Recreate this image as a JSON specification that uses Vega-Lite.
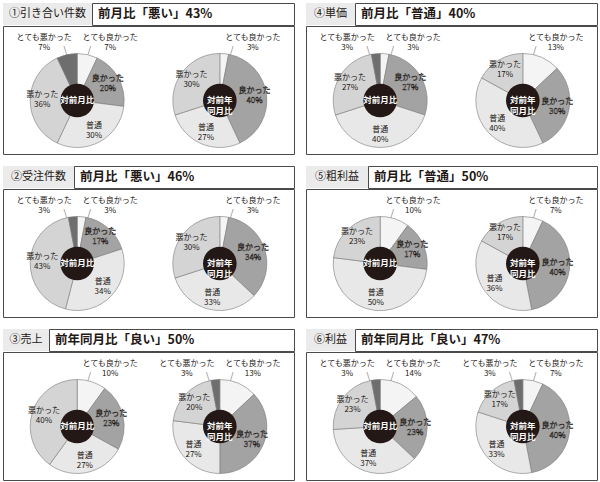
{
  "$schema": "https://vega.github.io/schema/vega-lite/v6.json",
  "padding": {"left": 2, "top": 2, "right": 3, "bottom": 3},
  "background": "white",
  "config": {
    "font": "Noto Sans CJK JP",
    "view": {"stroke": "#4a4a4a", "strokeWidth": 1},
    "text": {"font": "Noto Sans CJK JP", "color": "#231815", "baseline": "middle"},
    "arc": {"outerRadius": 47, "stroke": "#7a7a7a", "strokeWidth": 0.6},
    "point": {"shape": "circle", "filled": true, "size": 1130, "color": "#231815", "opacity": 1}
  },
  "datasets": {
    "d": [
      {"p": 1, "c": "対前月比", "cat": "とても良かった", "k": 1, "v": 0.07},
      {"p": 1, "c": "対前月比", "cat": "良かった", "k": 2, "v": 0.20},
      {"p": 1, "c": "対前月比", "cat": "普通", "k": 3, "v": 0.30},
      {"p": 1, "c": "対前月比", "cat": "悪かった", "k": 4, "v": 0.36},
      {"p": 1, "c": "対前月比", "cat": "とても悪かった", "k": 5, "v": 0.07},
      {"p": 1, "c": "対前年同月比", "cat": "とても良かった", "k": 1, "v": 0.03},
      {"p": 1, "c": "対前年同月比", "cat": "良かった", "k": 2, "v": 0.40},
      {"p": 1, "c": "対前年同月比", "cat": "普通", "k": 3, "v": 0.27},
      {"p": 1, "c": "対前年同月比", "cat": "悪かった", "k": 4, "v": 0.30},

      {"p": 2, "c": "対前月比", "cat": "とても良かった", "k": 1, "v": 0.03},
      {"p": 2, "c": "対前月比", "cat": "良かった", "k": 2, "v": 0.17},
      {"p": 2, "c": "対前月比", "cat": "普通", "k": 3, "v": 0.34},
      {"p": 2, "c": "対前月比", "cat": "悪かった", "k": 4, "v": 0.43},
      {"p": 2, "c": "対前月比", "cat": "とても悪かった", "k": 5, "v": 0.03},
      {"p": 2, "c": "対前年同月比", "cat": "とても良かった", "k": 1, "v": 0.03},
      {"p": 2, "c": "対前年同月比", "cat": "良かった", "k": 2, "v": 0.34},
      {"p": 2, "c": "対前年同月比", "cat": "普通", "k": 3, "v": 0.33},
      {"p": 2, "c": "対前年同月比", "cat": "悪かった", "k": 4, "v": 0.30},

      {"p": 3, "c": "対前月比", "cat": "とても良かった", "k": 1, "v": 0.10},
      {"p": 3, "c": "対前月比", "cat": "良かった", "k": 2, "v": 0.23},
      {"p": 3, "c": "対前月比", "cat": "普通", "k": 3, "v": 0.27},
      {"p": 3, "c": "対前月比", "cat": "悪かった", "k": 4, "v": 0.40},
      {"p": 3, "c": "対前年同月比", "cat": "とても良かった", "k": 1, "v": 0.13},
      {"p": 3, "c": "対前年同月比", "cat": "良かった", "k": 2, "v": 0.37},
      {"p": 3, "c": "対前年同月比", "cat": "普通", "k": 3, "v": 0.27},
      {"p": 3, "c": "対前年同月比", "cat": "悪かった", "k": 4, "v": 0.20},
      {"p": 3, "c": "対前年同月比", "cat": "とても悪かった", "k": 5, "v": 0.03},

      {"p": 4, "c": "対前月比", "cat": "とても良かった", "k": 1, "v": 0.03},
      {"p": 4, "c": "対前月比", "cat": "良かった", "k": 2, "v": 0.27},
      {"p": 4, "c": "対前月比", "cat": "普通", "k": 3, "v": 0.40},
      {"p": 4, "c": "対前月比", "cat": "悪かった", "k": 4, "v": 0.27},
      {"p": 4, "c": "対前月比", "cat": "とても悪かった", "k": 5, "v": 0.03},
      {"p": 4, "c": "対前年同月比", "cat": "とても良かった", "k": 1, "v": 0.13},
      {"p": 4, "c": "対前年同月比", "cat": "良かった", "k": 2, "v": 0.30},
      {"p": 4, "c": "対前年同月比", "cat": "普通", "k": 3, "v": 0.40},
      {"p": 4, "c": "対前年同月比", "cat": "悪かった", "k": 4, "v": 0.17},

      {"p": 5, "c": "対前月比", "cat": "とても良かった", "k": 1, "v": 0.10},
      {"p": 5, "c": "対前月比", "cat": "良かった", "k": 2, "v": 0.17},
      {"p": 5, "c": "対前月比", "cat": "普通", "k": 3, "v": 0.50},
      {"p": 5, "c": "対前月比", "cat": "悪かった", "k": 4, "v": 0.23},
      {"p": 5, "c": "対前年同月比", "cat": "とても良かった", "k": 1, "v": 0.07},
      {"p": 5, "c": "対前年同月比", "cat": "良かった", "k": 2, "v": 0.40},
      {"p": 5, "c": "対前年同月比", "cat": "普通", "k": 3, "v": 0.36},
      {"p": 5, "c": "対前年同月比", "cat": "悪かった", "k": 4, "v": 0.17},

      {"p": 6, "c": "対前月比", "cat": "とても良かった", "k": 1, "v": 0.14},
      {"p": 6, "c": "対前月比", "cat": "良かった", "k": 2, "v": 0.23},
      {"p": 6, "c": "対前月比", "cat": "普通", "k": 3, "v": 0.37},
      {"p": 6, "c": "対前月比", "cat": "悪かった", "k": 4, "v": 0.23},
      {"p": 6, "c": "対前月比", "cat": "とても悪かった", "k": 5, "v": 0.03},
      {"p": 6, "c": "対前年同月比", "cat": "とても良かった", "k": 1, "v": 0.07},
      {"p": 6, "c": "対前年同月比", "cat": "良かった", "k": 2, "v": 0.40},
      {"p": 6, "c": "対前年同月比", "cat": "普通", "k": 3, "v": 0.33},
      {"p": 6, "c": "対前年同月比", "cat": "悪かった", "k": 4, "v": 0.17},
      {"p": 6, "c": "対前年同月比", "cat": "とても悪かった", "k": 5, "v": 0.03}
    ],
    "ctr": [
      {"c": "対前月比", "t": "対前月比"},
      {"c": "対前年同月比", "t": "対前年\n同月比"}
    ]
  },
  "spacing": 10,
  "vconcat": [
    {"spacing": 10, "hconcat": [
      {"spacing": -2, "vconcat": [
        {"spacing": -2, "hconcat": [
          {"width": 89, "height": 22, "view": {"fill": "#ebebeb"}, "data": {"values": [{"t": "①引き合い件数"}]},
           "mark": {"type": "text", "fontSize": 11}, "encoding": {"text": {"field": "t", "type": "nominal"}}},
          {"width": 202, "height": 22, "data": {"values": [{"t": "前月比「悪い」43%"}]},
           "mark": {"type": "text", "fontSize": 12.5, "fontWeight": "bold", "align": "left", "dx": 6},
           "encoding": {"x": {"datum": "h", "type": "nominal", "scale": {"type": "point", "align": 0}, "axis": null}, "text": {"field": "t", "type": "nominal"}}}
        ]},
        {"width": 291, "height": 128, "data": {"name": "d"},
         "encoding": {
           "x": {"field": "c", "type": "nominal", "scale": {"type": "point", "domain": ["対前月比", "対前年同月比"], "padding": 0.52}, "axis": null},
           "y": {"datum": "o", "type": "nominal", "scale": {"type": "point", "align": 0.582}, "axis": null}
         },
         "layer": [
           {"transform": [{"filter": "datum.p == 1 && datum.c == '対前月比'"}], "mark": "arc",
            "encoding": {"theta": {"field": "v", "type": "quantitative", "stack": true, "scale": {"domain": [0, 1]}},
              "color": {"field": "cat", "type": "nominal", "scale": {"domain": ["とても良かった", "良かった", "普通", "悪かった", "とても悪かった"], "range": ["#f4f4f4", "#a3a3a3", "#e8e8e8", "#d4d4d4", "#6e6e6e"]}, "legend": null},
              "order": {"field": "k", "type": "quantitative"}}},
           {"transform": [{"filter": "datum.p == 1 && datum.c == '対前年同月比'"}], "mark": "arc",
            "encoding": {"theta": {"field": "v", "type": "quantitative", "stack": true, "scale": {"domain": [0, 1]}},
              "color": {"field": "cat", "type": "nominal", "scale": {"domain": ["とても良かった", "良かった", "普通", "悪かった", "とても悪かった"], "range": ["#f4f4f4", "#a3a3a3", "#e8e8e8", "#d4d4d4", "#6e6e6e"]}, "legend": null},
              "order": {"field": "k", "type": "quantitative"}}},
           {"transform": [{"filter": "datum.p == 1 && datum.c == '対前月比'"}],
            "mark": {"type": "text", "radius": 35, "fontSize": 8, "dy": -5, "stroke": "#231815"},
            "encoding": {"theta": {"field": "v", "type": "quantitative", "stack": true, "scale": {"domain": [0, 1]}},
              "detail": {"field": "cat", "type": "nominal"}, "order": {"field": "k", "type": "quantitative"},
              "fill": {"condition": {"test": "datum.k == 2", "value": "#ffffff"}, "value": "#231815"},
              "strokeWidth": {"condition": {"test": "datum.k == 2", "value": 0.5}, "value": 0},
              "text": {"field": "cat", "type": "nominal", "condition": {"test": "datum.k == 1 || datum.k == 5", "value": ""}}}},
           {"transform": [{"filter": "datum.p == 1 && datum.c == '対前月比'"}],
            "mark": {"type": "text", "radius": 35, "fontSize": 8, "dy": 5, "stroke": "#231815"},
            "encoding": {"theta": {"field": "v", "type": "quantitative", "stack": true, "scale": {"domain": [0, 1]}},
              "detail": {"field": "cat", "type": "nominal"}, "order": {"field": "k", "type": "quantitative"},
              "fill": {"condition": {"test": "datum.k == 2", "value": "#ffffff"}, "value": "#231815"},
              "strokeWidth": {"condition": {"test": "datum.k == 2", "value": 0.5}, "value": 0},
              "text": {"field": "v", "type": "quantitative", "format": ".0%", "condition": {"test": "datum.k == 1 || datum.k == 5", "value": ""}}}},
           {"transform": [{"filter": "datum.p == 1 && datum.c == '対前年同月比'"}],
            "mark": {"type": "text", "radius": 35, "fontSize": 8, "dy": -5, "stroke": "#231815"},
            "encoding": {"theta": {"field": "v", "type": "quantitative", "stack": true, "scale": {"domain": [0, 1]}},
              "detail": {"field": "cat", "type": "nominal"}, "order": {"field": "k", "type": "quantitative"},
              "fill": {"condition": {"test": "datum.k == 2", "value": "#ffffff"}, "value": "#231815"},
              "strokeWidth": {"condition": {"test": "datum.k == 2", "value": 0.5}, "value": 0},
              "text": {"field": "cat", "type": "nominal", "condition": {"test": "datum.k == 1 || datum.k == 5", "value": ""}}}},
           {"transform": [{"filter": "datum.p == 1 && datum.c == '対前年同月比'"}],
            "mark": {"type": "text", "radius": 35, "fontSize": 8, "dy": 5, "stroke": "#231815"},
            "encoding": {"theta": {"field": "v", "type": "quantitative", "stack": true, "scale": {"domain": [0, 1]}},
              "detail": {"field": "cat", "type": "nominal"}, "order": {"field": "k", "type": "quantitative"},
              "fill": {"condition": {"test": "datum.k == 2", "value": "#ffffff"}, "value": "#231815"},
              "strokeWidth": {"condition": {"test": "datum.k == 2", "value": 0.5}, "value": 0},
              "text": {"field": "v", "type": "quantitative", "format": ".0%", "condition": {"test": "datum.k == 1 || datum.k == 5", "value": ""}}}},
           {"transform": [{"filter": "datum.p == 1 && datum.k == 1"}],
            "mark": {"type": "text", "fontSize": 8, "dx": 33, "dy": -62}, "encoding": {"text": {"field": "cat", "type": "nominal"}}},
           {"transform": [{"filter": "datum.p == 1 && datum.k == 1"}],
            "mark": {"type": "text", "fontSize": 8, "dx": 33, "dy": -52}, "encoding": {"text": {"field": "v", "type": "quantitative", "format": ".0%"}}},
           {"transform": [{"filter": "datum.p == 1 && datum.k == 5"}],
            "mark": {"type": "text", "fontSize": 8, "dx": -33, "dy": -62}, "encoding": {"text": {"field": "cat", "type": "nominal"}}},
           {"transform": [{"filter": "datum.p == 1 && datum.k == 5"}],
            "mark": {"type": "text", "fontSize": 8, "dx": -33, "dy": -52}, "encoding": {"text": {"field": "v", "type": "quantitative", "format": ".0%"}}},
           {"transform": [{"filter": "datum.p == 1 && datum.k == 1"}],
            "mark": {"type": "text", "fontSize": 9, "color": "#777777", "dx": 12, "dy": -50}, "encoding": {"text": {"value": "/"}}},
           {"transform": [{"filter": "datum.p == 1 && datum.k == 5"}],
            "mark": {"type": "text", "fontSize": 9, "color": "#777777", "dx": -12, "dy": -50}, "encoding": {"text": {"value": "\\"}}},
           {"data": {"name": "ctr"}, "mark": "point"},
           {"data": {"name": "ctr"}, "mark": {"type": "text", "color": "#ffffff", "fontSize": 8.5, "fontWeight": "bold", "lineBreak": "\n", "lineHeight": 10.5},
            "encoding": {"text": {"field": "t", "type": "nominal"}}}
         ]}
      ]},
      {"spacing": -2, "vconcat": [
        {"spacing": -2, "hconcat": [
          {"width": 49, "height": 22, "view": {"fill": "#ebebeb"}, "data": {"values": [{"t": "④単価"}]},
           "mark": {"type": "text", "fontSize": 11}, "encoding": {"text": {"field": "t", "type": "nominal"}}},
          {"width": 242, "height": 22, "data": {"values": [{"t": "前月比「普通」40%"}]},
           "mark": {"type": "text", "fontSize": 12.5, "fontWeight": "bold", "align": "left", "dx": 6},
           "encoding": {"x": {"datum": "h", "type": "nominal", "scale": {"type": "point", "align": 0}, "axis": null}, "text": {"field": "t", "type": "nominal"}}}
        ]},
        {"width": 291, "height": 128, "data": {"name": "d"},
         "encoding": {
           "x": {"field": "c", "type": "nominal", "scale": {"type": "point", "domain": ["対前月比", "対前年同月比"], "padding": 0.52}, "axis": null},
           "y": {"datum": "o", "type": "nominal", "scale": {"type": "point", "align": 0.582}, "axis": null}
         },
         "layer": [
           {"transform": [{"filter": "datum.p == 4 && datum.c == '対前月比'"}], "mark": "arc",
            "encoding": {"theta": {"field": "v", "type": "quantitative", "stack": true, "scale": {"domain": [0, 1]}},
              "color": {"field": "cat", "type": "nominal", "scale": {"domain": ["とても良かった", "良かった", "普通", "悪かった", "とても悪かった"], "range": ["#f4f4f4", "#a3a3a3", "#e8e8e8", "#d4d4d4", "#6e6e6e"]}, "legend": null},
              "order": {"field": "k", "type": "quantitative"}}},
           {"transform": [{"filter": "datum.p == 4 && datum.c == '対前年同月比'"}], "mark": "arc",
            "encoding": {"theta": {"field": "v", "type": "quantitative", "stack": true, "scale": {"domain": [0, 1]}},
              "color": {"field": "cat", "type": "nominal", "scale": {"domain": ["とても良かった", "良かった", "普通", "悪かった", "とても悪かった"], "range": ["#f4f4f4", "#a3a3a3", "#e8e8e8", "#d4d4d4", "#6e6e6e"]}, "legend": null},
              "order": {"field": "k", "type": "quantitative"}}},
           {"transform": [{"filter": "datum.p == 4 && datum.c == '対前月比'"}],
            "mark": {"type": "text", "radius": 35, "fontSize": 8, "dy": -5, "stroke": "#231815"},
            "encoding": {"theta": {"field": "v", "type": "quantitative", "stack": true, "scale": {"domain": [0, 1]}},
              "detail": {"field": "cat", "type": "nominal"}, "order": {"field": "k", "type": "quantitative"},
              "fill": {"condition": {"test": "datum.k == 2", "value": "#ffffff"}, "value": "#231815"},
              "strokeWidth": {"condition": {"test": "datum.k == 2", "value": 0.5}, "value": 0},
              "text": {"field": "cat", "type": "nominal", "condition": {"test": "datum.k == 1 || datum.k == 5", "value": ""}}}},
           {"transform": [{"filter": "datum.p == 4 && datum.c == '対前月比'"}],
            "mark": {"type": "text", "radius": 35, "fontSize": 8, "dy": 5, "stroke": "#231815"},
            "encoding": {"theta": {"field": "v", "type": "quantitative", "stack": true, "scale": {"domain": [0, 1]}},
              "detail": {"field": "cat", "type": "nominal"}, "order": {"field": "k", "type": "quantitative"},
              "fill": {"condition": {"test": "datum.k == 2", "value": "#ffffff"}, "value": "#231815"},
              "strokeWidth": {"condition": {"test": "datum.k == 2", "value": 0.5}, "value": 0},
              "text": {"field": "v", "type": "quantitative", "format": ".0%", "condition": {"test": "datum.k == 1 || datum.k == 5", "value": ""}}}},
           {"transform": [{"filter": "datum.p == 4 && datum.c == '対前年同月比'"}],
            "mark": {"type": "text", "radius": 35, "fontSize": 8, "dy": -5, "stroke": "#231815"},
            "encoding": {"theta": {"field": "v", "type": "quantitative", "stack": true, "scale": {"domain": [0, 1]}},
              "detail": {"field": "cat", "type": "nominal"}, "order": {"field": "k", "type": "quantitative"},
              "fill": {"condition": {"test": "datum.k == 2", "value": "#ffffff"}, "value": "#231815"},
              "strokeWidth": {"condition": {"test": "datum.k == 2", "value": 0.5}, "value": 0},
              "text": {"field": "cat", "type": "nominal", "condition": {"test": "datum.k == 1 || datum.k == 5", "value": ""}}}},
           {"transform": [{"filter": "datum.p == 4 && datum.c == '対前年同月比'"}],
            "mark": {"type": "text", "radius": 35, "fontSize": 8, "dy": 5, "stroke": "#231815"},
            "encoding": {"theta": {"field": "v", "type": "quantitative", "stack": true, "scale": {"domain": [0, 1]}},
              "detail": {"field": "cat", "type": "nominal"}, "order": {"field": "k", "type": "quantitative"},
              "fill": {"condition": {"test": "datum.k == 2", "value": "#ffffff"}, "value": "#231815"},
              "strokeWidth": {"condition": {"test": "datum.k == 2", "value": 0.5}, "value": 0},
              "text": {"field": "v", "type": "quantitative", "format": ".0%", "condition": {"test": "datum.k == 1 || datum.k == 5", "value": ""}}}},
           {"transform": [{"filter": "datum.p == 4 && datum.k == 1"}],
            "mark": {"type": "text", "fontSize": 8, "dx": 33, "dy": -62}, "encoding": {"text": {"field": "cat", "type": "nominal"}}},
           {"transform": [{"filter": "datum.p == 4 && datum.k == 1"}],
            "mark": {"type": "text", "fontSize": 8, "dx": 33, "dy": -52}, "encoding": {"text": {"field": "v", "type": "quantitative", "format": ".0%"}}},
           {"transform": [{"filter": "datum.p == 4 && datum.k == 5"}],
            "mark": {"type": "text", "fontSize": 8, "dx": -33, "dy": -62}, "encoding": {"text": {"field": "cat", "type": "nominal"}}},
           {"transform": [{"filter": "datum.p == 4 && datum.k == 5"}],
            "mark": {"type": "text", "fontSize": 8, "dx": -33, "dy": -52}, "encoding": {"text": {"field": "v", "type": "quantitative", "format": ".0%"}}},
           {"transform": [{"filter": "datum.p == 4 && datum.k == 1"}],
            "mark": {"type": "text", "fontSize": 9, "color": "#777777", "dx": 12, "dy": -50}, "encoding": {"text": {"value": "/"}}},
           {"transform": [{"filter": "datum.p == 4 && datum.k == 5"}],
            "mark": {"type": "text", "fontSize": 9, "color": "#777777", "dx": -12, "dy": -50}, "encoding": {"text": {"value": "\\"}}},
           {"data": {"name": "ctr"}, "mark": "point"},
           {"data": {"name": "ctr"}, "mark": {"type": "text", "color": "#ffffff", "fontSize": 8.5, "fontWeight": "bold", "lineBreak": "\n", "lineHeight": 10.5},
            "encoding": {"text": {"field": "t", "type": "nominal"}}}
         ]}
      ]}
    ]},
    {"spacing": 10, "hconcat": [
      {"spacing": -2, "vconcat": [
        {"spacing": -2, "hconcat": [
          {"width": 71, "height": 22, "view": {"fill": "#ebebeb"}, "data": {"values": [{"t": "②受注件数"}]},
           "mark": {"type": "text", "fontSize": 11}, "encoding": {"text": {"field": "t", "type": "nominal"}}},
          {"width": 220, "height": 22, "data": {"values": [{"t": "前月比「悪い」46%"}]},
           "mark": {"type": "text", "fontSize": 12.5, "fontWeight": "bold", "align": "left", "dx": 6},
           "encoding": {"x": {"datum": "h", "type": "nominal", "scale": {"type": "point", "align": 0}, "axis": null}, "text": {"field": "t", "type": "nominal"}}}
        ]},
        {"width": 291, "height": 128, "data": {"name": "d"},
         "encoding": {
           "x": {"field": "c", "type": "nominal", "scale": {"type": "point", "domain": ["対前月比", "対前年同月比"], "padding": 0.52}, "axis": null},
           "y": {"datum": "o", "type": "nominal", "scale": {"type": "point", "align": 0.582}, "axis": null}
         },
         "layer": [
           {"transform": [{"filter": "datum.p == 2 && datum.c == '対前月比'"}], "mark": "arc",
            "encoding": {"theta": {"field": "v", "type": "quantitative", "stack": true, "scale": {"domain": [0, 1]}},
              "color": {"field": "cat", "type": "nominal", "scale": {"domain": ["とても良かった", "良かった", "普通", "悪かった", "とても悪かった"], "range": ["#f4f4f4", "#a3a3a3", "#e8e8e8", "#d4d4d4", "#6e6e6e"]}, "legend": null},
              "order": {"field": "k", "type": "quantitative"}}},
           {"transform": [{"filter": "datum.p == 2 && datum.c == '対前年同月比'"}], "mark": "arc",
            "encoding": {"theta": {"field": "v", "type": "quantitative", "stack": true, "scale": {"domain": [0, 1]}},
              "color": {"field": "cat", "type": "nominal", "scale": {"domain": ["とても良かった", "良かった", "普通", "悪かった", "とても悪かった"], "range": ["#f4f4f4", "#a3a3a3", "#e8e8e8", "#d4d4d4", "#6e6e6e"]}, "legend": null},
              "order": {"field": "k", "type": "quantitative"}}},
           {"transform": [{"filter": "datum.p == 2 && datum.c == '対前月比'"}],
            "mark": {"type": "text", "radius": 35, "fontSize": 8, "dy": -5, "stroke": "#231815"},
            "encoding": {"theta": {"field": "v", "type": "quantitative", "stack": true, "scale": {"domain": [0, 1]}},
              "detail": {"field": "cat", "type": "nominal"}, "order": {"field": "k", "type": "quantitative"},
              "fill": {"condition": {"test": "datum.k == 2", "value": "#ffffff"}, "value": "#231815"},
              "strokeWidth": {"condition": {"test": "datum.k == 2", "value": 0.5}, "value": 0},
              "text": {"field": "cat", "type": "nominal", "condition": {"test": "datum.k == 1 || datum.k == 5", "value": ""}}}},
           {"transform": [{"filter": "datum.p == 2 && datum.c == '対前月比'"}],
            "mark": {"type": "text", "radius": 35, "fontSize": 8, "dy": 5, "stroke": "#231815"},
            "encoding": {"theta": {"field": "v", "type": "quantitative", "stack": true, "scale": {"domain": [0, 1]}},
              "detail": {"field": "cat", "type": "nominal"}, "order": {"field": "k", "type": "quantitative"},
              "fill": {"condition": {"test": "datum.k == 2", "value": "#ffffff"}, "value": "#231815"},
              "strokeWidth": {"condition": {"test": "datum.k == 2", "value": 0.5}, "value": 0},
              "text": {"field": "v", "type": "quantitative", "format": ".0%", "condition": {"test": "datum.k == 1 || datum.k == 5", "value": ""}}}},
           {"transform": [{"filter": "datum.p == 2 && datum.c == '対前年同月比'"}],
            "mark": {"type": "text", "radius": 35, "fontSize": 8, "dy": -5, "stroke": "#231815"},
            "encoding": {"theta": {"field": "v", "type": "quantitative", "stack": true, "scale": {"domain": [0, 1]}},
              "detail": {"field": "cat", "type": "nominal"}, "order": {"field": "k", "type": "quantitative"},
              "fill": {"condition": {"test": "datum.k == 2", "value": "#ffffff"}, "value": "#231815"},
              "strokeWidth": {"condition": {"test": "datum.k == 2", "value": 0.5}, "value": 0},
              "text": {"field": "cat", "type": "nominal", "condition": {"test": "datum.k == 1 || datum.k == 5", "value": ""}}}},
           {"transform": [{"filter": "datum.p == 2 && datum.c == '対前年同月比'"}],
            "mark": {"type": "text", "radius": 35, "fontSize": 8, "dy": 5, "stroke": "#231815"},
            "encoding": {"theta": {"field": "v", "type": "quantitative", "stack": true, "scale": {"domain": [0, 1]}},
              "detail": {"field": "cat", "type": "nominal"}, "order": {"field": "k", "type": "quantitative"},
              "fill": {"condition": {"test": "datum.k == 2", "value": "#ffffff"}, "value": "#231815"},
              "strokeWidth": {"condition": {"test": "datum.k == 2", "value": 0.5}, "value": 0},
              "text": {"field": "v", "type": "quantitative", "format": ".0%", "condition": {"test": "datum.k == 1 || datum.k == 5", "value": ""}}}},
           {"transform": [{"filter": "datum.p == 2 && datum.k == 1"}],
            "mark": {"type": "text", "fontSize": 8, "dx": 33, "dy": -62}, "encoding": {"text": {"field": "cat", "type": "nominal"}}},
           {"transform": [{"filter": "datum.p == 2 && datum.k == 1"}],
            "mark": {"type": "text", "fontSize": 8, "dx": 33, "dy": -52}, "encoding": {"text": {"field": "v", "type": "quantitative", "format": ".0%"}}},
           {"transform": [{"filter": "datum.p == 2 && datum.k == 5"}],
            "mark": {"type": "text", "fontSize": 8, "dx": -33, "dy": -62}, "encoding": {"text": {"field": "cat", "type": "nominal"}}},
           {"transform": [{"filter": "datum.p == 2 && datum.k == 5"}],
            "mark": {"type": "text", "fontSize": 8, "dx": -33, "dy": -52}, "encoding": {"text": {"field": "v", "type": "quantitative", "format": ".0%"}}},
           {"transform": [{"filter": "datum.p == 2 && datum.k == 1"}],
            "mark": {"type": "text", "fontSize": 9, "color": "#777777", "dx": 12, "dy": -50}, "encoding": {"text": {"value": "/"}}},
           {"transform": [{"filter": "datum.p == 2 && datum.k == 5"}],
            "mark": {"type": "text", "fontSize": 9, "color": "#777777", "dx": -12, "dy": -50}, "encoding": {"text": {"value": "\\"}}},
           {"data": {"name": "ctr"}, "mark": "point"},
           {"data": {"name": "ctr"}, "mark": {"type": "text", "color": "#ffffff", "fontSize": 8.5, "fontWeight": "bold", "lineBreak": "\n", "lineHeight": 10.5},
            "encoding": {"text": {"field": "t", "type": "nominal"}}}
         ]}
      ]},
      {"spacing": -2, "vconcat": [
        {"spacing": -2, "hconcat": [
          {"width": 62, "height": 22, "view": {"fill": "#ebebeb"}, "data": {"values": [{"t": "⑤粗利益"}]},
           "mark": {"type": "text", "fontSize": 11}, "encoding": {"text": {"field": "t", "type": "nominal"}}},
          {"width": 229, "height": 22, "data": {"values": [{"t": "前月比「普通」50%"}]},
           "mark": {"type": "text", "fontSize": 12.5, "fontWeight": "bold", "align": "left", "dx": 6},
           "encoding": {"x": {"datum": "h", "type": "nominal", "scale": {"type": "point", "align": 0}, "axis": null}, "text": {"field": "t", "type": "nominal"}}}
        ]},
        {"width": 291, "height": 128, "data": {"name": "d"},
         "encoding": {
           "x": {"field": "c", "type": "nominal", "scale": {"type": "point", "domain": ["対前月比", "対前年同月比"], "padding": 0.52}, "axis": null},
           "y": {"datum": "o", "type": "nominal", "scale": {"type": "point", "align": 0.582}, "axis": null}
         },
         "layer": [
           {"transform": [{"filter": "datum.p == 5 && datum.c == '対前月比'"}], "mark": "arc",
            "encoding": {"theta": {"field": "v", "type": "quantitative", "stack": true, "scale": {"domain": [0, 1]}},
              "color": {"field": "cat", "type": "nominal", "scale": {"domain": ["とても良かった", "良かった", "普通", "悪かった", "とても悪かった"], "range": ["#f4f4f4", "#a3a3a3", "#e8e8e8", "#d4d4d4", "#6e6e6e"]}, "legend": null},
              "order": {"field": "k", "type": "quantitative"}}},
           {"transform": [{"filter": "datum.p == 5 && datum.c == '対前年同月比'"}], "mark": "arc",
            "encoding": {"theta": {"field": "v", "type": "quantitative", "stack": true, "scale": {"domain": [0, 1]}},
              "color": {"field": "cat", "type": "nominal", "scale": {"domain": ["とても良かった", "良かった", "普通", "悪かった", "とても悪かった"], "range": ["#f4f4f4", "#a3a3a3", "#e8e8e8", "#d4d4d4", "#6e6e6e"]}, "legend": null},
              "order": {"field": "k", "type": "quantitative"}}},
           {"transform": [{"filter": "datum.p == 5 && datum.c == '対前月比'"}],
            "mark": {"type": "text", "radius": 35, "fontSize": 8, "dy": -5, "stroke": "#231815"},
            "encoding": {"theta": {"field": "v", "type": "quantitative", "stack": true, "scale": {"domain": [0, 1]}},
              "detail": {"field": "cat", "type": "nominal"}, "order": {"field": "k", "type": "quantitative"},
              "fill": {"condition": {"test": "datum.k == 2", "value": "#ffffff"}, "value": "#231815"},
              "strokeWidth": {"condition": {"test": "datum.k == 2", "value": 0.5}, "value": 0},
              "text": {"field": "cat", "type": "nominal", "condition": {"test": "datum.k == 1 || datum.k == 5", "value": ""}}}},
           {"transform": [{"filter": "datum.p == 5 && datum.c == '対前月比'"}],
            "mark": {"type": "text", "radius": 35, "fontSize": 8, "dy": 5, "stroke": "#231815"},
            "encoding": {"theta": {"field": "v", "type": "quantitative", "stack": true, "scale": {"domain": [0, 1]}},
              "detail": {"field": "cat", "type": "nominal"}, "order": {"field": "k", "type": "quantitative"},
              "fill": {"condition": {"test": "datum.k == 2", "value": "#ffffff"}, "value": "#231815"},
              "strokeWidth": {"condition": {"test": "datum.k == 2", "value": 0.5}, "value": 0},
              "text": {"field": "v", "type": "quantitative", "format": ".0%", "condition": {"test": "datum.k == 1 || datum.k == 5", "value": ""}}}},
           {"transform": [{"filter": "datum.p == 5 && datum.c == '対前年同月比'"}],
            "mark": {"type": "text", "radius": 35, "fontSize": 8, "dy": -5, "stroke": "#231815"},
            "encoding": {"theta": {"field": "v", "type": "quantitative", "stack": true, "scale": {"domain": [0, 1]}},
              "detail": {"field": "cat", "type": "nominal"}, "order": {"field": "k", "type": "quantitative"},
              "fill": {"condition": {"test": "datum.k == 2", "value": "#ffffff"}, "value": "#231815"},
              "strokeWidth": {"condition": {"test": "datum.k == 2", "value": 0.5}, "value": 0},
              "text": {"field": "cat", "type": "nominal", "condition": {"test": "datum.k == 1 || datum.k == 5", "value": ""}}}},
           {"transform": [{"filter": "datum.p == 5 && datum.c == '対前年同月比'"}],
            "mark": {"type": "text", "radius": 35, "fontSize": 8, "dy": 5, "stroke": "#231815"},
            "encoding": {"theta": {"field": "v", "type": "quantitative", "stack": true, "scale": {"domain": [0, 1]}},
              "detail": {"field": "cat", "type": "nominal"}, "order": {"field": "k", "type": "quantitative"},
              "fill": {"condition": {"test": "datum.k == 2", "value": "#ffffff"}, "value": "#231815"},
              "strokeWidth": {"condition": {"test": "datum.k == 2", "value": 0.5}, "value": 0},
              "text": {"field": "v", "type": "quantitative", "format": ".0%", "condition": {"test": "datum.k == 1 || datum.k == 5", "value": ""}}}},
           {"transform": [{"filter": "datum.p == 5 && datum.k == 1"}],
            "mark": {"type": "text", "fontSize": 8, "dx": 33, "dy": -62}, "encoding": {"text": {"field": "cat", "type": "nominal"}}},
           {"transform": [{"filter": "datum.p == 5 && datum.k == 1"}],
            "mark": {"type": "text", "fontSize": 8, "dx": 33, "dy": -52}, "encoding": {"text": {"field": "v", "type": "quantitative", "format": ".0%"}}},
           {"transform": [{"filter": "datum.p == 5 && datum.k == 5"}],
            "mark": {"type": "text", "fontSize": 8, "dx": -33, "dy": -62}, "encoding": {"text": {"field": "cat", "type": "nominal"}}},
           {"transform": [{"filter": "datum.p == 5 && datum.k == 5"}],
            "mark": {"type": "text", "fontSize": 8, "dx": -33, "dy": -52}, "encoding": {"text": {"field": "v", "type": "quantitative", "format": ".0%"}}},
           {"transform": [{"filter": "datum.p == 5 && datum.k == 1"}],
            "mark": {"type": "text", "fontSize": 9, "color": "#777777", "dx": 12, "dy": -50}, "encoding": {"text": {"value": "/"}}},
           {"transform": [{"filter": "datum.p == 5 && datum.k == 5"}],
            "mark": {"type": "text", "fontSize": 9, "color": "#777777", "dx": -12, "dy": -50}, "encoding": {"text": {"value": "\\"}}},
           {"data": {"name": "ctr"}, "mark": "point"},
           {"data": {"name": "ctr"}, "mark": {"type": "text", "color": "#ffffff", "fontSize": 8.5, "fontWeight": "bold", "lineBreak": "\n", "lineHeight": 10.5},
            "encoding": {"text": {"field": "t", "type": "nominal"}}}
         ]}
      ]}
    ]},
    {"spacing": 10, "hconcat": [
      {"spacing": -2, "vconcat": [
        {"spacing": -2, "hconcat": [
          {"width": 46, "height": 22, "view": {"fill": "#ebebeb"}, "data": {"values": [{"t": "③売上"}]},
           "mark": {"type": "text", "fontSize": 11}, "encoding": {"text": {"field": "t", "type": "nominal"}}},
          {"width": 245, "height": 22, "data": {"values": [{"t": "前年同月比「良い」50%"}]},
           "mark": {"type": "text", "fontSize": 12.5, "fontWeight": "bold", "align": "left", "dx": 6},
           "encoding": {"x": {"datum": "h", "type": "nominal", "scale": {"type": "point", "align": 0}, "axis": null}, "text": {"field": "t", "type": "nominal"}}}
        ]},
        {"width": 291, "height": 128, "data": {"name": "d"},
         "encoding": {
           "x": {"field": "c", "type": "nominal", "scale": {"type": "point", "domain": ["対前月比", "対前年同月比"], "padding": 0.52}, "axis": null},
           "y": {"datum": "o", "type": "nominal", "scale": {"type": "point", "align": 0.582}, "axis": null}
         },
         "layer": [
           {"transform": [{"filter": "datum.p == 3 && datum.c == '対前月比'"}], "mark": "arc",
            "encoding": {"theta": {"field": "v", "type": "quantitative", "stack": true, "scale": {"domain": [0, 1]}},
              "color": {"field": "cat", "type": "nominal", "scale": {"domain": ["とても良かった", "良かった", "普通", "悪かった", "とても悪かった"], "range": ["#f4f4f4", "#a3a3a3", "#e8e8e8", "#d4d4d4", "#6e6e6e"]}, "legend": null},
              "order": {"field": "k", "type": "quantitative"}}},
           {"transform": [{"filter": "datum.p == 3 && datum.c == '対前年同月比'"}], "mark": "arc",
            "encoding": {"theta": {"field": "v", "type": "quantitative", "stack": true, "scale": {"domain": [0, 1]}},
              "color": {"field": "cat", "type": "nominal", "scale": {"domain": ["とても良かった", "良かった", "普通", "悪かった", "とても悪かった"], "range": ["#f4f4f4", "#a3a3a3", "#e8e8e8", "#d4d4d4", "#6e6e6e"]}, "legend": null},
              "order": {"field": "k", "type": "quantitative"}}},
           {"transform": [{"filter": "datum.p == 3 && datum.c == '対前月比'"}],
            "mark": {"type": "text", "radius": 35, "fontSize": 8, "dy": -5, "stroke": "#231815"},
            "encoding": {"theta": {"field": "v", "type": "quantitative", "stack": true, "scale": {"domain": [0, 1]}},
              "detail": {"field": "cat", "type": "nominal"}, "order": {"field": "k", "type": "quantitative"},
              "fill": {"condition": {"test": "datum.k == 2", "value": "#ffffff"}, "value": "#231815"},
              "strokeWidth": {"condition": {"test": "datum.k == 2", "value": 0.5}, "value": 0},
              "text": {"field": "cat", "type": "nominal", "condition": {"test": "datum.k == 1 || datum.k == 5", "value": ""}}}},
           {"transform": [{"filter": "datum.p == 3 && datum.c == '対前月比'"}],
            "mark": {"type": "text", "radius": 35, "fontSize": 8, "dy": 5, "stroke": "#231815"},
            "encoding": {"theta": {"field": "v", "type": "quantitative", "stack": true, "scale": {"domain": [0, 1]}},
              "detail": {"field": "cat", "type": "nominal"}, "order": {"field": "k", "type": "quantitative"},
              "fill": {"condition": {"test": "datum.k == 2", "value": "#ffffff"}, "value": "#231815"},
              "strokeWidth": {"condition": {"test": "datum.k == 2", "value": 0.5}, "value": 0},
              "text": {"field": "v", "type": "quantitative", "format": ".0%", "condition": {"test": "datum.k == 1 || datum.k == 5", "value": ""}}}},
           {"transform": [{"filter": "datum.p == 3 && datum.c == '対前年同月比'"}],
            "mark": {"type": "text", "radius": 35, "fontSize": 8, "dy": -5, "stroke": "#231815"},
            "encoding": {"theta": {"field": "v", "type": "quantitative", "stack": true, "scale": {"domain": [0, 1]}},
              "detail": {"field": "cat", "type": "nominal"}, "order": {"field": "k", "type": "quantitative"},
              "fill": {"condition": {"test": "datum.k == 2", "value": "#ffffff"}, "value": "#231815"},
              "strokeWidth": {"condition": {"test": "datum.k == 2", "value": 0.5}, "value": 0},
              "text": {"field": "cat", "type": "nominal", "condition": {"test": "datum.k == 1 || datum.k == 5", "value": ""}}}},
           {"transform": [{"filter": "datum.p == 3 && datum.c == '対前年同月比'"}],
            "mark": {"type": "text", "radius": 35, "fontSize": 8, "dy": 5, "stroke": "#231815"},
            "encoding": {"theta": {"field": "v", "type": "quantitative", "stack": true, "scale": {"domain": [0, 1]}},
              "detail": {"field": "cat", "type": "nominal"}, "order": {"field": "k", "type": "quantitative"},
              "fill": {"condition": {"test": "datum.k == 2", "value": "#ffffff"}, "value": "#231815"},
              "strokeWidth": {"condition": {"test": "datum.k == 2", "value": 0.5}, "value": 0},
              "text": {"field": "v", "type": "quantitative", "format": ".0%", "condition": {"test": "datum.k == 1 || datum.k == 5", "value": ""}}}},
           {"transform": [{"filter": "datum.p == 3 && datum.k == 1"}],
            "mark": {"type": "text", "fontSize": 8, "dx": 33, "dy": -62}, "encoding": {"text": {"field": "cat", "type": "nominal"}}},
           {"transform": [{"filter": "datum.p == 3 && datum.k == 1"}],
            "mark": {"type": "text", "fontSize": 8, "dx": 33, "dy": -52}, "encoding": {"text": {"field": "v", "type": "quantitative", "format": ".0%"}}},
           {"transform": [{"filter": "datum.p == 3 && datum.k == 5"}],
            "mark": {"type": "text", "fontSize": 8, "dx": -33, "dy": -62}, "encoding": {"text": {"field": "cat", "type": "nominal"}}},
           {"transform": [{"filter": "datum.p == 3 && datum.k == 5"}],
            "mark": {"type": "text", "fontSize": 8, "dx": -33, "dy": -52}, "encoding": {"text": {"field": "v", "type": "quantitative", "format": ".0%"}}},
           {"transform": [{"filter": "datum.p == 3 && datum.k == 1"}],
            "mark": {"type": "text", "fontSize": 9, "color": "#777777", "dx": 12, "dy": -50}, "encoding": {"text": {"value": "/"}}},
           {"transform": [{"filter": "datum.p == 3 && datum.k == 5"}],
            "mark": {"type": "text", "fontSize": 9, "color": "#777777", "dx": -12, "dy": -50}, "encoding": {"text": {"value": "\\"}}},
           {"data": {"name": "ctr"}, "mark": "point"},
           {"data": {"name": "ctr"}, "mark": {"type": "text", "color": "#ffffff", "fontSize": 8.5, "fontWeight": "bold", "lineBreak": "\n", "lineHeight": 10.5},
            "encoding": {"text": {"field": "t", "type": "nominal"}}}
         ]}
      ]},
      {"spacing": -2, "vconcat": [
        {"spacing": -2, "hconcat": [
          {"width": 49, "height": 22, "view": {"fill": "#ebebeb"}, "data": {"values": [{"t": "⑥利益"}]},
           "mark": {"type": "text", "fontSize": 11}, "encoding": {"text": {"field": "t", "type": "nominal"}}},
          {"width": 242, "height": 22, "data": {"values": [{"t": "前年同月比「良い」47%"}]},
           "mark": {"type": "text", "fontSize": 12.5, "fontWeight": "bold", "align": "left", "dx": 6},
           "encoding": {"x": {"datum": "h", "type": "nominal", "scale": {"type": "point", "align": 0}, "axis": null}, "text": {"field": "t", "type": "nominal"}}}
        ]},
        {"width": 291, "height": 128, "data": {"name": "d"},
         "encoding": {
           "x": {"field": "c", "type": "nominal", "scale": {"type": "point", "domain": ["対前月比", "対前年同月比"], "padding": 0.52}, "axis": null},
           "y": {"datum": "o", "type": "nominal", "scale": {"type": "point", "align": 0.582}, "axis": null}
         },
         "layer": [
           {"transform": [{"filter": "datum.p == 6 && datum.c == '対前月比'"}], "mark": "arc",
            "encoding": {"theta": {"field": "v", "type": "quantitative", "stack": true, "scale": {"domain": [0, 1]}},
              "color": {"field": "cat", "type": "nominal", "scale": {"domain": ["とても良かった", "良かった", "普通", "悪かった", "とても悪かった"], "range": ["#f4f4f4", "#a3a3a3", "#e8e8e8", "#d4d4d4", "#6e6e6e"]}, "legend": null},
              "order": {"field": "k", "type": "quantitative"}}},
           {"transform": [{"filter": "datum.p == 6 && datum.c == '対前年同月比'"}], "mark": "arc",
            "encoding": {"theta": {"field": "v", "type": "quantitative", "stack": true, "scale": {"domain": [0, 1]}},
              "color": {"field": "cat", "type": "nominal", "scale": {"domain": ["とても良かった", "良かった", "普通", "悪かった", "とても悪かった"], "range": ["#f4f4f4", "#a3a3a3", "#e8e8e8", "#d4d4d4", "#6e6e6e"]}, "legend": null},
              "order": {"field": "k", "type": "quantitative"}}},
           {"transform": [{"filter": "datum.p == 6 && datum.c == '対前月比'"}],
            "mark": {"type": "text", "radius": 35, "fontSize": 8, "dy": -5, "stroke": "#231815"},
            "encoding": {"theta": {"field": "v", "type": "quantitative", "stack": true, "scale": {"domain": [0, 1]}},
              "detail": {"field": "cat", "type": "nominal"}, "order": {"field": "k", "type": "quantitative"},
              "fill": {"condition": {"test": "datum.k == 2", "value": "#ffffff"}, "value": "#231815"},
              "strokeWidth": {"condition": {"test": "datum.k == 2", "value": 0.5}, "value": 0},
              "text": {"field": "cat", "type": "nominal", "condition": {"test": "datum.k == 1 || datum.k == 5", "value": ""}}}},
           {"transform": [{"filter": "datum.p == 6 && datum.c == '対前月比'"}],
            "mark": {"type": "text", "radius": 35, "fontSize": 8, "dy": 5, "stroke": "#231815"},
            "encoding": {"theta": {"field": "v", "type": "quantitative", "stack": true, "scale": {"domain": [0, 1]}},
              "detail": {"field": "cat", "type": "nominal"}, "order": {"field": "k", "type": "quantitative"},
              "fill": {"condition": {"test": "datum.k == 2", "value": "#ffffff"}, "value": "#231815"},
              "strokeWidth": {"condition": {"test": "datum.k == 2", "value": 0.5}, "value": 0},
              "text": {"field": "v", "type": "quantitative", "format": ".0%", "condition": {"test": "datum.k == 1 || datum.k == 5", "value": ""}}}},
           {"transform": [{"filter": "datum.p == 6 && datum.c == '対前年同月比'"}],
            "mark": {"type": "text", "radius": 35, "fontSize": 8, "dy": -5, "stroke": "#231815"},
            "encoding": {"theta": {"field": "v", "type": "quantitative", "stack": true, "scale": {"domain": [0, 1]}},
              "detail": {"field": "cat", "type": "nominal"}, "order": {"field": "k", "type": "quantitative"},
              "fill": {"condition": {"test": "datum.k == 2", "value": "#ffffff"}, "value": "#231815"},
              "strokeWidth": {"condition": {"test": "datum.k == 2", "value": 0.5}, "value": 0},
              "text": {"field": "cat", "type": "nominal", "condition": {"test": "datum.k == 1 || datum.k == 5", "value": ""}}}},
           {"transform": [{"filter": "datum.p == 6 && datum.c == '対前年同月比'"}],
            "mark": {"type": "text", "radius": 35, "fontSize": 8, "dy": 5, "stroke": "#231815"},
            "encoding": {"theta": {"field": "v", "type": "quantitative", "stack": true, "scale": {"domain": [0, 1]}},
              "detail": {"field": "cat", "type": "nominal"}, "order": {"field": "k", "type": "quantitative"},
              "fill": {"condition": {"test": "datum.k == 2", "value": "#ffffff"}, "value": "#231815"},
              "strokeWidth": {"condition": {"test": "datum.k == 2", "value": 0.5}, "value": 0},
              "text": {"field": "v", "type": "quantitative", "format": ".0%", "condition": {"test": "datum.k == 1 || datum.k == 5", "value": ""}}}},
           {"transform": [{"filter": "datum.p == 6 && datum.k == 1"}],
            "mark": {"type": "text", "fontSize": 8, "dx": 33, "dy": -62}, "encoding": {"text": {"field": "cat", "type": "nominal"}}},
           {"transform": [{"filter": "datum.p == 6 && datum.k == 1"}],
            "mark": {"type": "text", "fontSize": 8, "dx": 33, "dy": -52}, "encoding": {"text": {"field": "v", "type": "quantitative", "format": ".0%"}}},
           {"transform": [{"filter": "datum.p == 6 && datum.k == 5"}],
            "mark": {"type": "text", "fontSize": 8, "dx": -33, "dy": -62}, "encoding": {"text": {"field": "cat", "type": "nominal"}}},
           {"transform": [{"filter": "datum.p == 6 && datum.k == 5"}],
            "mark": {"type": "text", "fontSize": 8, "dx": -33, "dy": -52}, "encoding": {"text": {"field": "v", "type": "quantitative", "format": ".0%"}}},
           {"transform": [{"filter": "datum.p == 6 && datum.k == 1"}],
            "mark": {"type": "text", "fontSize": 9, "color": "#777777", "dx": 12, "dy": -50}, "encoding": {"text": {"value": "/"}}},
           {"transform": [{"filter": "datum.p == 6 && datum.k == 5"}],
            "mark": {"type": "text", "fontSize": 9, "color": "#777777", "dx": -12, "dy": -50}, "encoding": {"text": {"value": "\\"}}},
           {"data": {"name": "ctr"}, "mark": "point"},
           {"data": {"name": "ctr"}, "mark": {"type": "text", "color": "#ffffff", "fontSize": 8.5, "fontWeight": "bold", "lineBreak": "\n", "lineHeight": 10.5},
            "encoding": {"text": {"field": "t", "type": "nominal"}}}
         ]}
      ]}
    ]}
  ]
}
